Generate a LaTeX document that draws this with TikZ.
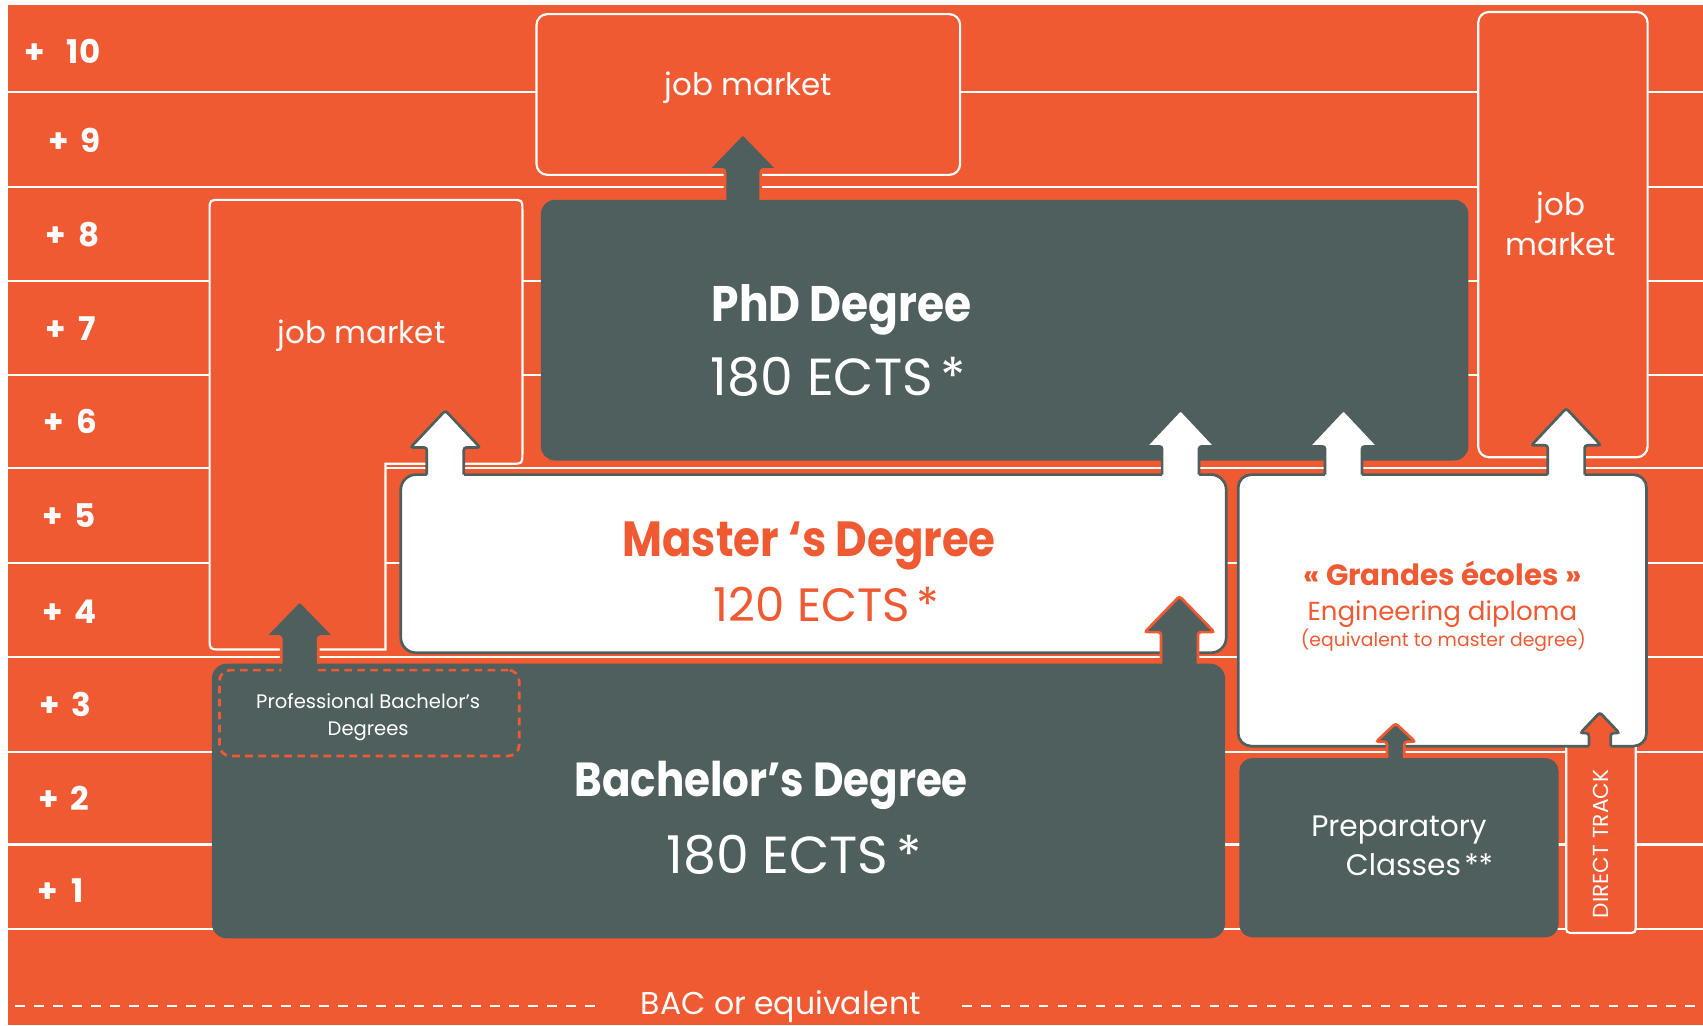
\documentclass[tikz,border=0pt]{standalone}
\usepackage{fontspec}
\setmainfont{Poppins}
\newfontfamily\titlefont{Poppins}[FakeStretch=0.88]
\usetikzlibrary{calc}
\definecolor{bgor}{HTML}{F05A33}
\definecolor{dkgr}{HTML}{4F5F5D}
\newcommand\fsz[1]{\fontsize{#1}{#1}\selectfont}
% block arrow: #1 fill, #2 outline, #3 base coord, #4 tip coord, #5 stem half, #6 head half, #7 head height
\newcommand\barrow[7]{%
  \fill[#1, rounded corners=2.5pt] let \p1=(#3), \p2=(#4) in
    (\x1-#5pt,\y1-12pt) -- (\x1-#5pt,\y2-#7pt) -- (\x1-#6pt,\y2-#7pt) -- (\x1,\y2) -- (\x1+#6pt,\y2-#7pt) -- (\x1+#5pt,\y2-#7pt) -- (\x1+#5pt,\y1-12pt) -- cycle;
  \draw[#2, line width=2.5pt, rounded corners=2.5pt] let \p1=(#3), \p2=(#4) in
    (\x1-#5pt,\y1) -- (\x1-#5pt,\y2-#7pt) -- (\x1-#6pt,\y2-#7pt) -- (\x1,\y2) -- (\x1+#6pt,\y2-#7pt) -- (\x1+#5pt,\y2-#7pt) -- (\x1+#5pt,\y1);
}
\tikzset{
  gridline/.style={draw=white, line width=2pt},
  bacline/.style={draw=white, line width=2pt, dash pattern=on 9pt off 8.5pt},
  jobbox/.style={draw=white, fill=bgor, line width=2pt, rounded corners=10pt, inner sep=0pt},
  darkbox/.style={fill=dkgr, rounded corners=13pt, inner sep=0pt},
  whitebox/.style={fill=white, draw=dkgr, line width=2.5pt, rounded corners=14pt, inner sep=0pt},
  wtext/.style={text=white, inner sep=0pt, anchor=base},
  otext/.style={text=bgor, inner sep=0pt, anchor=base},
  yearlbl/.style={text=white, inner sep=0pt, anchor=base west, font=\fsz{30}\bfseries},
}
\begin{document}
\begin{tikzpicture}[x=1pt,y=-1pt]
\useasboundingbox (0,0) rectangle (1568,944);
\fill[white] (0,0) rectangle (1568,944);
\fill[bgor] (7,5) rectangle (1568,944);
% grid lines
\foreach \yy in {84.5,172.5,258.5,345,431,518,605,692,777.5,855.5}
  \draw[gridline] (7,\yy) -- (1568,\yy);
% year labels
\node[yearlbl] (y10) at (22,58.5) {+\kern20pt 1\kern1pt0};
\node[yearlbl] (y9) at (44,140) {+\kern11pt 9};
\node[yearlbl] (y8) at (42,226.5) {+\kern11pt 8};
\node[yearlbl] (y7) at (42,313.5) {+\kern11pt 7};
\node[yearlbl] (y6) at (40,399.5) {+\kern11pt 6};
\node[yearlbl] (y5) at (39,485.5) {+\kern11pt 5};
\node[yearlbl] (y4) at (39,574.5) {+\kern11pt 4};
\node[yearlbl] (y3) at (36,660) {+\kern11pt 3};
\node[yearlbl] (y2) at (35,746) {+\kern11pt 2};
\node[yearlbl] (y1) at (34,831) {+\kern13pt 1};
% BAC line
\node[wtext, font=\fsz{29}] (bac) at (719,934.5) {BAC or equivalent};
\coordinate (bacL) at (14,926);
\coordinate (bacR) at (1568,926);
\draw[bacline] (bacL) -- ($(bac.west |- bacL)+(-40,0)$);
\draw[bacline] ($(bac.east |- bacR)+(38,0)$) -- (bacR);
% job market boxes
\node[jobbox, minimum width=390, minimum height=148] (jobtop) at (689,87) {};
\node[jobbox, minimum width=156, minimum height=410] (jobright) at (1439,216) {};
\path[draw=white, fill=bgor, line width=2pt]
  (193,194) .. controls (193,184) .. (203,184) -- (471,184) .. controls (481,184) .. (481,194)
  -- (481,417) .. controls (481,427) .. (471,427) -- (355,427) -- (355,598)
  -- (203,598) .. controls (193,598) .. (193,588) -- cycle;
\coordinate (jobleft) at (337,391);
% PhD
\node[darkbox, minimum width=854, minimum height=240] (phd) at (925,304) {};
% Bachelor, Prep
\node[darkbox, minimum width=933, minimum height=253, rounded corners=14pt] (bach) at (661.5,737.5) {};
\node[darkbox, minimum width=294, minimum height=165, rounded corners=12pt] (prep) at (1288,780.5) {};
\node[draw=bgor, line width=2.5pt, dash pattern=on 7pt off 5pt, rounded corners=10pt,
      minimum width=276, minimum height=79, inner sep=0pt] (prof) at (340,656.5) {};
% Direct track
\fill[bgor] (1442,687) -- (1442,851) .. controls (1442,859) .. (1450,859) -- (1498,859) .. controls (1506,859) .. (1506,851) -- (1506,687) -- cycle;
\draw[white, line width=2pt] (1442,687) -- (1442,851) .. controls (1442,859) .. (1450,859) -- (1498,859) .. controls (1506,859) .. (1506,851) -- (1506,687);
\coordinate (direct) at (1474,773);
% Master, Grandes ecoles
\node[whitebox, minimum width=760, minimum height=164] (master) at (749,519) {};
\node[whitebox, minimum width=376, minimum height=250, rounded corners=12pt] (ge) at (1328,562) {};
% arrows
\coordinate (a1b) at (684,184);  \coordinate (a1t) at (684,123);
\barrow{dkgr}{bgor}{a1b}{a1t}{16.5}{32}{33}
\coordinate (w1b) at (410,437);  \coordinate (w1t) at (410,378);
\barrow{white}{dkgr}{w1b}{w1t}{17}{32}{34}
\coordinate (w2b) at (1087,437); \coordinate (w2t) at (1087,377);
\barrow{white}{dkgr}{w2b}{w2t}{17}{32}{34}
\coordinate (w3b) at (1237,437); \coordinate (w3t) at (1237,377);
\barrow{white}{dkgr}{w3b}{w3t}{17}{32}{34}
\coordinate (w4b) at (1442,437); \coordinate (w4t) at (1442,376);
\barrow{white}{dkgr}{w4b}{w4t}{17}{32}{34}
\coordinate (d2b) at (1086,611); \coordinate (d2t) at (1086,549);
\barrow{dkgr}{bgor}{d2b}{d2t}{17}{32}{33}
\coordinate (d3b) at (276,611);  \coordinate (d3t) at (276,553);
\barrow{dkgr}{bgor}{d3b}{d3t}{17}{32}{33}
\coordinate (d4b) at (1285,698); \coordinate (d4t) at (1285,666);
\barrow{dkgr}{bgor}{d4b}{d4t}{8}{18}{17}
\coordinate (o1b) at (1473,687); \coordinate (o1t) at (1473,656);
\barrow{bgor}{dkgr}{o1b}{o1t}{10}{18}{19}
% texts
\node[wtext, font=\fsz{28.5}] (tjob) at (689,87.5) {job market};
\node[wtext, font=\fsz{28.5}] (ljob) at (333,316) {job market};
\node[wtext, font=\fsz{28.5}] (rjob1) at (1437,198) {job};
\node[wtext, font=\fsz{28.5}] (rjob2) at (1437,235) {market};
\node[wtext, font=\titlefont\fsz{46}\bfseries] (phdt) at (775,296) {PhD Degree};
\node[wtext, font=\fsz{48}] (phde) at (772,364) {180 ECTS\kern7pt*};
\node[otext, font=\titlefont\fsz{45.5}\bfseries] (mast) at (745,512) {Master ‘s Degree};
\node[otext, font=\fsz{43}] (maste) at (761,572) {120 ECTS\kern6pt*};
\node[wtext, font=\titlefont\fsz{44}\bfseries] (bacht) at (710,733) {Bachelor’s Degree};
\node[wtext, font=\fsz{48}] (bache) at (731,804) {180 ECTS\kern7pt*};
\node[otext, font=\fsz{27}\bfseries] (ge1) at (1328,539) {«\kern6pt Grandes écoles\kern6pt»};
\node[otext, font=\fsz{24}] (ge2) at (1328,571) {Engineering diploma};
\node[otext, font=\fsz{17.3}] (ge3) at (1329,595.5) {(equivalent to master degree)};
\node[wtext, font=\fsz{27.3}] (prep1) at (1288,770) {Preparatory};
\node[wtext, font=\fsz{27.3}] (prep2) at (1307,806) {Classes\kern3pt**};
\node[wtext, font=\fsz{18}] (prof1) at (339,652) {Professional Bachelor’s};
\node[wtext, font=\fsz{18}] (prof2) at (339,677) {Degrees};
\node[text=white, inner sep=0pt, rotate=90, font=\fsz{20}] (dtrack) at (1474,777) {DIRECT TRACK};
\end{tikzpicture}
\end{document}
